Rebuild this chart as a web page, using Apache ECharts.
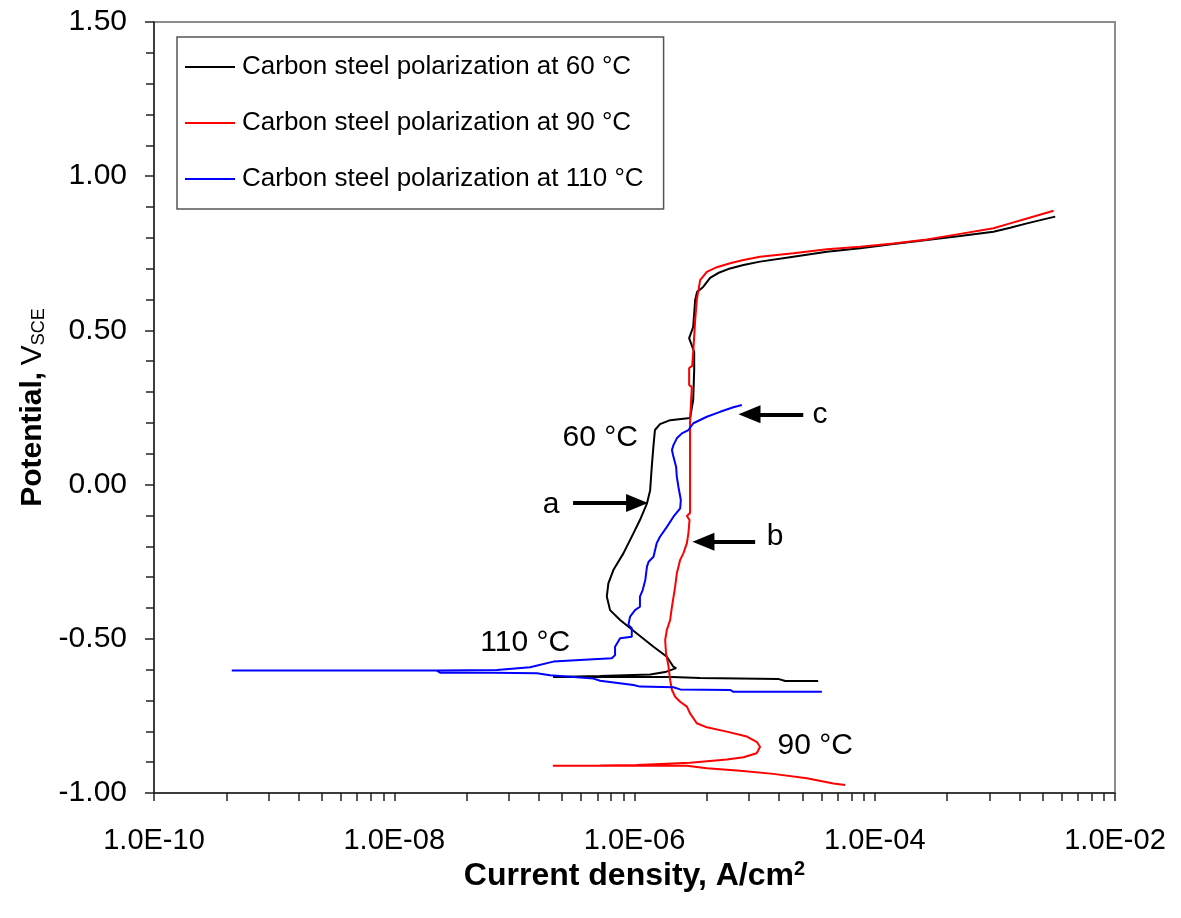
<!DOCTYPE html>
<html><head><meta charset="utf-8">
<script src="https://cdn.jsdelivr.net/npm/echarts@6/dist/echarts.min.js"></script>
<style>html,body{margin:0;padding:0;background:#fff}#c{width:1181px;height:918px}</style>
</head><body><div id="c"></div>
<script>
// ---- data: [current density A/cm2, potential V_SCE] in scan order ----
const curve60 = [[3.38e-5,-0.637],[1.80e-5,-0.637],[1.57e-5,-0.630],[3.52e-6,-0.627],[2.06e-6,-0.624],[5.17e-7,-0.624],[2.10e-7,-0.624],[5.17e-7,-0.621],[1.35e-6,-0.616],[1.80e-6,-0.608],[2.22e-6,-0.595],[2.10e-6,-0.590],[1.86e-6,-0.558],[1.44e-6,-0.526],[1.04e-6,-0.482],[7.59e-7,-0.439],[6.26e-7,-0.407],[5.88e-7,-0.363],[6.06e-7,-0.320],[6.67e-7,-0.277],[8.08e-7,-0.223],[9.79e-7,-0.158],[1.11e-6,-0.115],[1.27e-6,-0.061],[1.35e-6,-0.018],[1.39e-6,0.054],[1.44e-6,0.128],[1.48e-6,0.177],[1.63e-6,0.196],[1.98e-6,0.209],[2.90e-6,0.216],[3.08e-6,0.274],[3.14e-6,0.372],[3.14e-6,0.430],[2.85e-6,0.475],[3.08e-6,0.511],[3.20e-6,0.599],[3.32e-6,0.625],[3.73e-6,0.641],[4.26e-6,0.670],[4.97e-6,0.686],[6.25e-6,0.701],[8.07e-6,0.712],[1.11e-5,0.723],[2.10e-5,0.739],[3.99e-5,0.755],[7.56e-5,0.766],[1.43e-4,0.780],[2.72e-4,0.793],[5.14e-4,0.806],[9.73e-4,0.820],[1.34e-3,0.833],[1.85e-3,0.847],[2.54e-3,0.860],[3.18e-3,0.869]];
const curve90 = [[5.67e-5,-0.974],[4.53e-5,-0.969],[2.72e-5,-0.952],[1.43e-5,-0.938],[7.57e-6,-0.928],[4.00e-6,-0.920],[2.73e-6,-0.912],[1.11e-6,-0.912],[5.17e-7,-0.912],[2.09e-7,-0.912],[5.17e-7,-0.911],[1.04e-6,-0.909],[2.90e-6,-0.902],[5.87e-6,-0.891],[8.07e-6,-0.884],[1.04e-5,-0.871],[1.11e-5,-0.850],[1.04e-5,-0.834],[8.61e-6,-0.817],[5.87e-6,-0.801],[4.00e-6,-0.787],[3.30e-6,-0.774],[2.90e-6,-0.742],[2.73e-6,-0.720],[2.40e-6,-0.704],[2.18e-6,-0.688],[2.05e-6,-0.666],[1.98e-6,-0.634],[1.92e-6,-0.590],[1.83e-6,-0.547],[1.80e-6,-0.504],[1.86e-6,-0.471],[1.98e-6,-0.439],[2.05e-6,-0.396],[2.18e-6,-0.331],[2.25e-6,-0.288],[2.40e-6,-0.244],[2.55e-6,-0.223],[2.73e-6,-0.190],[2.81e-6,-0.158],[2.87e-6,-0.115],[2.73e-6,-0.102],[2.90e-6,-0.092],[2.90e-6,0.070],[2.90e-6,0.200],[2.96e-6,0.274],[3.00e-6,0.316],[2.85e-6,0.323],[2.85e-6,0.378],[3.02e-6,0.385],[3.09e-6,0.436],[3.20e-6,0.534],[3.30e-6,0.599],[3.52e-6,0.663],[4.00e-6,0.690],[4.85e-6,0.705],[6.25e-6,0.718],[8.07e-6,0.728],[1.11e-5,0.739],[2.10e-5,0.750],[3.99e-5,0.763],[7.56e-5,0.771],[1.43e-4,0.782],[2.72e-4,0.795],[5.14e-4,0.813],[9.73e-4,0.831],[1.34e-3,0.847],[1.85e-3,0.863],[3.08e-3,0.888]];
const curve110 = [[3.63e-5,-0.672],[6.66e-6,-0.672],[6.25e-6,-0.666],[2.40e-6,-0.664],[2.11e-6,-0.657],[1.11e-6,-0.655],[9.79e-7,-0.650],[5.17e-7,-0.636],[4.55e-7,-0.629],[3.31e-7,-0.625],[1.98e-7,-0.618],[1.54e-7,-0.612],[6.68e-8,-0.610],[2.41e-8,-0.610],[2.26e-8,-0.603],[4.44e-10,-0.603],[2.26e-8,-0.6025],[7.14e-8,-0.601],[1.35e-7,-0.592],[2.11e-7,-0.574],[4.55e-7,-0.566],[6.47e-7,-0.563],[6.89e-7,-0.553],[6.89e-7,-0.526],[7.59e-7,-0.498],[9.49e-7,-0.493],[9.49e-7,-0.466],[8.90e-7,-0.455],[9.19e-7,-0.428],[1.01e-6,-0.407],[1.11e-6,-0.396],[1.11e-6,-0.363],[1.17e-6,-0.342],[1.23e-6,-0.309],[1.27e-6,-0.266],[1.31e-6,-0.250],[1.44e-6,-0.234],[1.53e-6,-0.190],[1.63e-6,-0.169],[1.86e-6,-0.137],[2.11e-6,-0.104],[2.40e-6,-0.077],[2.43e-6,-0.050],[2.32e-6,-0.007],[2.25e-6,0.026],[2.22e-6,0.058],[2.11e-6,0.090],[2.05e-6,0.112],[2.11e-6,0.128],[2.25e-6,0.150],[2.48e-6,0.166],[2.81e-6,0.177],[3.09e-6,0.199],[4.00e-6,0.220],[5.16e-6,0.236],[6.66e-6,0.251],[7.82e-6,0.258]];
const seriesNames = ['Carbon steel polarization at 60 °C','Carbon steel polarization at 90 °C','Carbon steel polarization at 110 °C'];
const seriesColors = ['#000000','#ff0000','#0000ff'];
// ---- axis ticks ----
const xMajorTicks = [1e-10, 1e-8, 1e-6, 1e-4, 1e-2];
const xMinorFactors = [4, 9, 16, 25, 36, 49, 64, 81];
// ---- annotations: [current, potential, text] ----
const annotations = [[5.18e-7,0.151,'60 °C'],[2.02e-7,-0.066,'a'],[1.48e-5,-0.169,'b'],[3.5e-5,0.226,'c'],[1.23e-7,-0.514,'110 °C'],[3.19e-5,-0.848,'90 °C']];
// arrows: [tail current, tip current, potential]
const arrows = [[3.08e-7,1.05e-6,-0.060],[1.01e-5,3.75e-6,-0.185],[2.54e-5,9.06e-6,0.228]];

const FONT = "'Liberation Sans', Arial, sans-serif";
const allXTicks = xMajorTicks.concat(...xMajorTicks.slice(0,-1).map(b => xMinorFactors.map(k => b*k)));
function fmtE(v){
  const e = Math.round(Math.log10(v));
  const m = v/Math.pow(10,e);
  const s = e<0?'-':'+';
  const a = Math.abs(e);
  return m.toFixed(1)+'E'+s+(a<10?'0'+a:a);
}
const chart = echarts.init(document.getElementById('c'));
const lineSeries = [curve60, curve90, curve110].map((d,i)=>({
  name: seriesNames[i], type:'line', data:d, symbol:'none', showSymbol:false,
  lineStyle:{color:seriesColors[i], width:2}, itemStyle:{color:seriesColors[i]},
  animation:false, z:2+i
}));
chart.setOption({
  backgroundColor:'#fff',
  animation:false,
  grid:{left:154, top:22, right:66, bottom:125, show:true, borderColor:'#8c8c8c', borderWidth:2, outerBoundsMode:'none'},
  legend:{
    data:seriesNames, orient:'vertical', left:177, top:37,
    padding:[16,20,16,8], itemGap:28, itemWidth:50, itemHeight:2,
    borderColor:'#555', borderWidth:1.5, backgroundColor:'#fff',
    textStyle:{fontFamily:FONT, fontSize:26, color:'#000', lineHeight:28, padding:[0,0,0,2]},
    icon:'rect'
  },
  xAxis:{
    type:'log', min:1e-10, max:1e-2, logBase:10,
    axisLine:{show:true, onZero:false, lineStyle:{color:'#222', width:1.5}},
    axisTick:{show:true, length:8, lineStyle:{color:'#222', width:1.5}, customValues:allXTicks},
    axisLabel:{customValues:xMajorTicks, formatter:fmtE, fontFamily:FONT, fontSize:29, color:'#000', margin:33, showMinLabel:true, showMaxLabel:true},
    splitLine:{show:false}, minorTick:{show:false},
    name:'{b|Current density, A/cm}{sup|2}', nameLocation:'middle', nameGap:60,
    nameTextStyle:{rich:{b:{fontFamily:FONT, fontWeight:'bold', fontSize:32, color:'#000'}, sup:{fontFamily:FONT, fontWeight:'bold', fontSize:20, color:'#000', verticalAlign:'top', padding:[0,0,10,0]}}}
  },
  yAxis:{
    type:'value', min:-1, max:1.5, interval:0.5,
    axisLine:{show:true, onZero:false, lineStyle:{color:'#222', width:1.5}},
    axisTick:{show:true, length:9, lineStyle:{color:'#222', width:1.5}},
    minorTick:{show:true, splitNumber:5, length:8, lineStyle:{color:'#222', width:1.5}},
    axisLabel:{formatter:v=>v.toFixed(2), fontFamily:FONT, fontSize:30, color:'#000', margin:27},
    splitLine:{show:false},
    name:'{b|Potential,}  {v|V}{s|SCE}', nameLocation:'middle', nameGap:104,
    nameTextStyle:{rich:{b:{fontFamily:FONT, fontWeight:'bold', fontSize:30, color:'#000'}, v:{fontFamily:FONT, fontSize:30, color:'#000'}, s:{fontFamily:FONT, fontSize:18, color:'#000', verticalAlign:'bottom'}}}
  },
  series: lineSeries.concat([{
    type:'scatter', name:'annotations', data:annotations, symbolSize:0, silent:true, z:10,
    itemStyle:{color:'rgba(0,0,0,0)'},
    label:{show:true, position:'inside', formatter:p=>p.data[2], fontFamily:FONT, fontSize:30, color:'#000', textBorderWidth:0, opacity:1},
    markLine:{
      silent:true, symbol:['none','triangle'], symbolSize:[18,22], animation:false,
      lineStyle:{color:'#000', width:4, type:'solid'}, label:{show:false},
      data: arrows.map(a=>[{coord:[a[0],a[2]]},{coord:[a[1],a[2]]}])
    }
  }])
});
</script></body></html>
